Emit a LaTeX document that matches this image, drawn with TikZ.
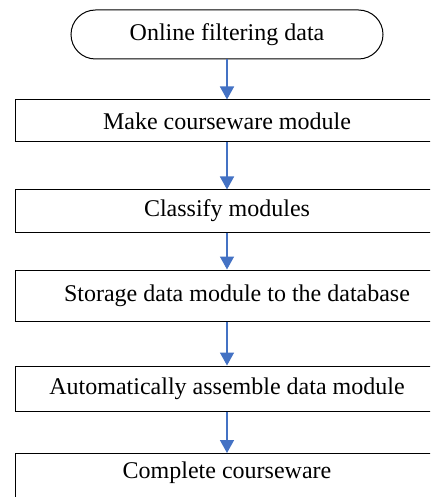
\documentclass[tikz,border=0pt]{standalone}
\usepackage{fontspec}
\setmainfont{Liberation Serif}
\usepackage{tikz}
\usetikzlibrary{arrows.meta,positioning}

\definecolor{flowblue}{HTML}{4472C4}

\tikzset{
  stepbox/.style = {draw = black, line width = 0.5pt, shape = rectangle, minimum width = 212pt, inner ysep = 0pt, font = \fontsize{12}{14}\selectfont},
  startbox/.style = {draw = black, line width = 0.5pt, shape = rectangle, rounded corners = 12.25pt, minimum width = 156pt, minimum height = 24.5pt, font = \fontsize{12}{14}\selectfont},
  flow/.style = {draw = flowblue, line width = 0.8pt, -{Triangle[width = 7pt, length = 6.5pt]}}
}

\begin{document}
\begin{tikzpicture}[x = 0.5pt, y = -0.5pt]
\useasboundingbox (0,0) rectangle (430,497);
\clip (0,0) rectangle (430,497);
\node[startbox] (online) at (227,34.5) {Online filtering data};
\node[stepbox, minimum height = 21pt] (make) at (227,121) {Make courseware module};
\node[stepbox, minimum height = 21pt] (classify) at (227,211) {Classify modules};
\node[stepbox, minimum height = 25.5pt] (storage) at (227,295.5) {\hspace*{10pt}Storage data module to the database};
\node[stepbox, minimum height = 22.5pt] (assemble) at (227,388.5) {Automatically assemble data module};
\node[stepbox, anchor = north, text height = 9.5pt, text depth = 13pt, inner ysep = 3pt] (complete) at (227,453) {Complete courseware};
% arrows between the steps
\draw[flow] (online) -- (make);
\draw[flow] (make) -- (classify);
\draw[flow] (classify) -- (storage);
\draw[flow] (storage) -- (assemble);
\draw[flow] (assemble) -- (complete);
\end{tikzpicture}
\end{document}
